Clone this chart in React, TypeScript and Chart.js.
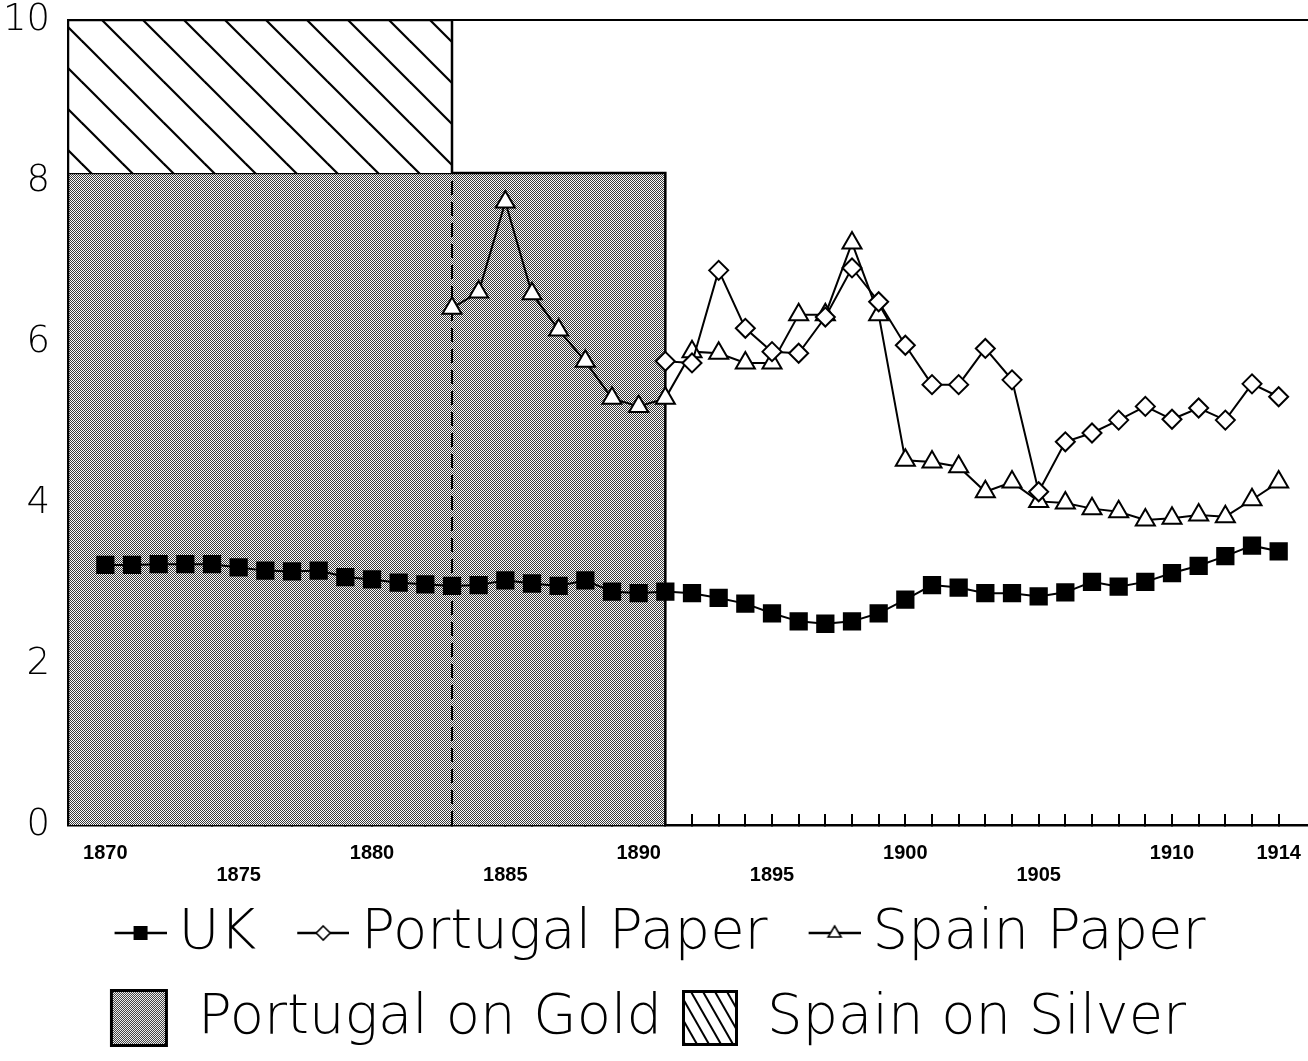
import React, { useEffect, useRef } from "react";
import { Chart, registerables } from "chart.js";

Chart.register(...registerables);

// ---------------- data ----------------
const years = [
  1870, 1871, 1872, 1873, 1874, 1875, 1876, 1877, 1878, 1879,
  1880, 1881, 1882, 1883, 1884, 1885, 1886, 1887, 1888, 1889,
  1890, 1891, 1892, 1893, 1894, 1895, 1896, 1897, 1898, 1899,
  1900, 1901, 1902, 1903, 1904, 1905, 1906, 1907, 1908, 1909,
  1910, 1911, 1912, 1913, 1914,
];

const ukRates = [
  3.23, 3.23, 3.24, 3.24, 3.24, 3.2, 3.16, 3.15, 3.16, 3.08,
  3.05, 3.01, 2.99, 2.97, 2.98, 3.04, 3.0, 2.97, 3.04, 2.9,
  2.88, 2.9, 2.88, 2.82, 2.75, 2.63, 2.53, 2.5, 2.53, 2.63,
  2.8, 2.98, 2.95, 2.88, 2.88, 2.84, 2.89, 3.02, 2.96, 3.02,
  3.13, 3.22, 3.34, 3.47, 3.4,
];

const portugalPaperStart = 1891;
const portugalPaperRates = [
  5.76, 5.74, 6.89, 6.17, 5.88, 5.86, 6.31, 6.92, 6.5, 5.96,
  5.47, 5.47, 5.92, 5.53, 4.14, 4.76, 4.87, 5.03, 5.2, 5.04,
  5.18, 5.03, 5.48, 5.32,
];

const spainPaperStart = 1883;
const spainPaperRates = [
  6.42, 6.62, 7.74, 6.6, 6.15, 5.76, 5.3, 5.2, 5.3, 5.88,
  5.86, 5.74, 5.74, 6.34, 6.34, 7.23, 6.34, 4.53, 4.51, 4.45,
  4.14, 4.26, 4.02, 4.0, 3.93, 3.89, 3.79, 3.81, 3.85, 3.83,
  4.04, 4.26,
];

// regimes (shaded / hatched blocks)
const goldRegimeEnd = 1891; // Portugal on Gold until
const goldRegimeRange = [0, 8.1];
const silverRegimeEnd = 1883; // Spain on Silver until
const silverRegimeRange = [8.1, 10];

// axis / tick labels
const xAxisRange = [1868.6, 1915.1];
const xLabelsUpper = [1870, 1880, 1890, 1900, 1910, 1914];
const xLabelsLower = [1875, 1885, 1895, 1905];
const yAxisRange = [0, 10];
const yTickStep = 2;

const legendLabels = ["UK", "Portugal Paper", "Spain Paper", "Portugal on Gold", "Spain on Silver"];

const THIN_FONT = "'DejaVu Sans', sans-serif";

// ---------------- helpers ----------------
function makeStippleTile(): HTMLCanvasElement {
  const c = document.createElement("canvas");
  c.width = 2;
  c.height = 2;
  const g = c.getContext("2d")!;
  g.fillStyle = "#fbfbfb";
  g.fillRect(0, 0, 2, 2);
  g.fillStyle = "#3a3a3a";
  g.fillRect(0, 0, 1, 1);
  g.fillRect(1, 1, 1, 1);
  return c;
}

function makeHatchTile(s: number): HTMLCanvasElement {
  const c = document.createElement("canvas");
  c.width = s;
  c.height = s;
  const g = c.getContext("2d")!;
  g.fillStyle = "#fff";
  g.fillRect(0, 0, s, s);
  g.strokeStyle = "#000";
  g.lineWidth = 2.2;
  for (const k of [-s, 0, s]) {
    g.beginPath();
    g.moveTo(k - 1, -1);
    g.lineTo(k + s + 1, s + 1);
    g.stroke();
  }
  return c;
}

// line + marker icon, drawn on the right part of an 80px canvas
function lineMarkerIcon(kind: "rect" | "diamond" | "triangle"): HTMLCanvasElement {
  const c = document.createElement("canvas");
  c.width = 80;
  c.height = 24;
  const g = c.getContext("2d")!;
  const x0 = 28, x1 = 80;
  g.strokeStyle = "#000";
  g.lineWidth = 2.5;
  g.beginPath();
  g.moveTo(x0, 12);
  g.lineTo(x1, 12);
  g.stroke();
  const cx = (x0 + x1) / 2, cy = 12;
  g.lineWidth = 1.6;
  if (kind === "rect") {
    g.fillStyle = "#000";
    g.fillRect(cx - 7, cy - 7, 14, 14);
  } else if (kind === "diamond") {
    g.fillStyle = "#fff";
    g.beginPath();
    g.moveTo(cx, cy - 7);
    g.lineTo(cx + 7, cy);
    g.lineTo(cx, cy + 7);
    g.lineTo(cx - 7, cy);
    g.closePath();
    g.fill();
    g.stroke();
  } else {
    g.fillStyle = "#fff";
    g.beginPath();
    g.moveTo(cx, cy - 7);
    g.lineTo(cx + 6.5, cy + 4);
    g.lineTo(cx - 6.5, cy + 4);
    g.closePath();
    g.fill();
    g.stroke();
  }
  return c;
}

// box icons inside an 80px-wide transparent canvas
function goldBoxIcon(tile: HTMLCanvasElement): HTMLCanvasElement {
  const c = document.createElement("canvas");
  c.width = 80;
  c.height = 58;
  const g = c.getContext("2d")!;
  const o = 4;
  g.fillStyle = g.createPattern(tile, "repeat")!;
  g.fillRect(o, 0, 58, 58);
  g.strokeStyle = "#000";
  g.lineWidth = 3;
  g.strokeRect(o + 1.5, 1.5, 55, 55);
  return c;
}

function silverBoxIcon(): HTMLCanvasElement {
  const c = document.createElement("canvas");
  c.width = 80;
  c.height = 56;
  const g = c.getContext("2d")!;
  const o = 7;
  g.fillStyle = "#fff";
  g.fillRect(o, 0, 56, 56);
  g.save();
  g.beginPath();
  g.rect(o, 0, 56, 56);
  g.clip();
  g.strokeStyle = "#000";
  g.lineWidth = 2;
  for (let x = o - 40; x < o + 60; x += 12) {
    g.beginPath();
    g.moveTo(x, 0);
    g.lineTo(x + 32, 56);
    g.stroke();
  }
  g.restore();
  g.lineWidth = 3;
  g.strokeRect(o + 1.5, 1.5, 53, 53);
  return c;
}

// ---------------- component ----------------
export default function App() {
  const canvasRef = useRef<HTMLCanvasElement | null>(null);

  useEffect(() => {
    const canvas = canvasRef.current;
    if (!canvas) return;
    const ctx = canvas.getContext("2d")!;

    const stippleTile = makeStippleTile();
    const stipple = ctx.createPattern(stippleTile, "repeat")!;
    const hatch = ctx.createPattern(makeHatchTile(41), "repeat")!;

    const [xMin, xMax] = xAxisRange;

    const ukData = years.map((x, i) => ({ x, y: ukRates[i] }));
    const portData = portugalPaperRates.map((y, i) => ({ x: portugalPaperStart + i, y }));
    const spainData = spainPaperRates.map((y, i) => ({ x: spainPaperStart + i, y }));

    const goldData = [
      { x: xMin, y: goldRegimeRange[0] },
      { x: xMin, y: goldRegimeRange[1] },
      { x: goldRegimeEnd, y: goldRegimeRange[1] },
      { x: goldRegimeEnd, y: goldRegimeRange[0] },
    ];
    const silverData = [
      { x: xMin, y: silverRegimeRange[0] },
      { x: xMin, y: silverRegimeRange[1] },
      { x: silverRegimeEnd, y: silverRegimeRange[1] },
      { x: silverRegimeEnd, y: silverRegimeRange[0] },
    ];
    const dividerData = [
      { x: silverRegimeEnd, y: goldRegimeRange[0] },
      { x: silverRegimeEnd, y: goldRegimeRange[1] },
    ];

    const icons = [
      lineMarkerIcon("rect"),
      lineMarkerIcon("diamond"),
      lineMarkerIcon("triangle"),
      goldBoxIcon(stippleTile),
      silverBoxIcon(),
    ];

    const lineCommon = {
      borderColor: "#000",
      borderWidth: 2,
      tension: 0,
      fill: false,
      pointBorderColor: "#000",
      pointBorderWidth: 2,
    };

    const chart = new Chart(canvas, {
      type: "line",
      data: {
        datasets: [
          {
            ...lineCommon,
            label: legendLabels[0],
            data: ukData,
            pointStyle: "rect",
            pointRadius: 11.5,
            pointBackgroundColor: "#000",
            order: 0,
          },
          {
            ...lineCommon,
            label: legendLabels[1],
            data: portData,
            pointStyle: "rectRot",
            pointRadius: 9.5,
            pointBackgroundColor: "#fff",
            order: 0,
          },
          {
            ...lineCommon,
            label: legendLabels[2],
            data: spainData,
            pointStyle: "triangle",
            pointRadius: 11,
            pointBackgroundColor: "#fff",
            order: 0,
          },
          {
            label: legendLabels[3],
            data: goldData,
            borderColor: "#000",
            borderWidth: 2.5,
            backgroundColor: stipple,
            fill: "origin",
            pointRadius: 0,
            tension: 0,
            order: 3,
          },
          {
            label: legendLabels[4],
            data: silverData,
            borderColor: "#000",
            borderWidth: 2.5,
            backgroundColor: hatch,
            fill: { value: silverRegimeRange[0] },
            pointRadius: 0,
            tension: 0,
            order: 2,
          },
          {
            label: "divider",
            data: dividerData,
            borderColor: "#000",
            borderWidth: 2,
            borderDash: [14, 7],
            fill: false,
            pointRadius: 0,
            order: 1,
          },
        ] as any,
      },
      options: {
        animation: false,
        responsive: false,
        devicePixelRatio: 1,
        events: [],
        layout: { autoPadding: false, padding: { top: 20, left: 0, right: 0, bottom: 5 } },
        scales: {
          x: {
            type: "linear",
            position: "bottom",
            z: 1,
            min: xMin,
            max: xMax,
            afterBuildTicks: (scale: any) => {
              scale.ticks = years.map((v) => ({ value: v }));
            },
            afterFit: (scale: any) => {
              scale.height = 51;
              scale.paddingLeft = 0;
              scale.paddingRight = 0;
            },
            ticks: {
              autoSkip: false,
              maxRotation: 0,
              minRotation: 0,
              mirror: true,
              padding: -39,
              color: "#000",
              font: { family: "'Liberation Sans', Arial, sans-serif", size: 20, weight: "bold", lineHeight: 1.1 },
              callback: (value: any) => {
                const v = Number(value);
                if (xLabelsUpper.includes(v)) return String(v);
                if (xLabelsLower.includes(v)) return ["", String(v)];
                return "";
              },
            },
            grid: {
              display: true,
              drawOnChartArea: false,
              drawTicks: true,
              tickLength: -11,
              color: "#000",
              lineWidth: 2,
            },
            border: { display: true, color: "#000", width: 2.5 },
          },
          xTop: {
            type: "linear",
            position: "top",
            display: true,
            min: xMin,
            max: xMax,
            afterFit: (scale: any) => {
              scale.height = 0;
              scale.paddingLeft = 0;
              scale.paddingRight = 0;
            },
            ticks: { display: false },
            grid: { display: false, drawTicks: false },
            border: { display: true, color: "#000", width: 2 },
          },
          y: {
            type: "linear",
            position: "left",
            z: 1,
            min: yAxisRange[0],
            max: yAxisRange[1],
            afterFit: (scale: any) => {
              scale.width = 68;
              scale.paddingTop = 0;
              scale.paddingBottom = 0;
            },
            ticks: {
              stepSize: yTickStep,
              padding: 30,
              color: "#000",
              font: { family: THIN_FONT, size: 37, weight: "200", lineHeight: 1 },
            },
            grid: {
              display: true,
              drawOnChartArea: false,
              drawTicks: true,
              tickLength: -12,
              color: "#000",
              lineWidth: 2,
            },
            border: { display: true, color: "#000", width: 3 },
          },
        },
        plugins: {
          tooltip: { enabled: false },
          legend: {
            display: true,
            position: "bottom",
            onClick: () => {},
            labels: {
              usePointStyle: true,
              pointStyleWidth: 48,
              padding: 29,
              color: "#000",
              font: { family: THIN_FONT, size: 56, weight: "200" },
              generateLabels: () =>
                legendLabels.map((text, i) => ({
                  text,
                  datasetIndex: i,
                  fillStyle: "transparent",
                  strokeStyle: "transparent",
                  lineWidth: 0,
                  hidden: false,
                  pointStyle: icons[i] as any,
                  fontColor: "#000",
                })),
            },
          },
        },
      } as any,
    });

    return () => chart.destroy();
  }, []);

  return (
    <div style={{ position: "absolute", left: 0, top: 0, width: 1308, height: 1061, background: "#fff" }}>
      <canvas ref={canvasRef} width={1308} height={1061} style={{ width: 1308, height: 1061, display: "block" }} />
    </div>
  );
}
